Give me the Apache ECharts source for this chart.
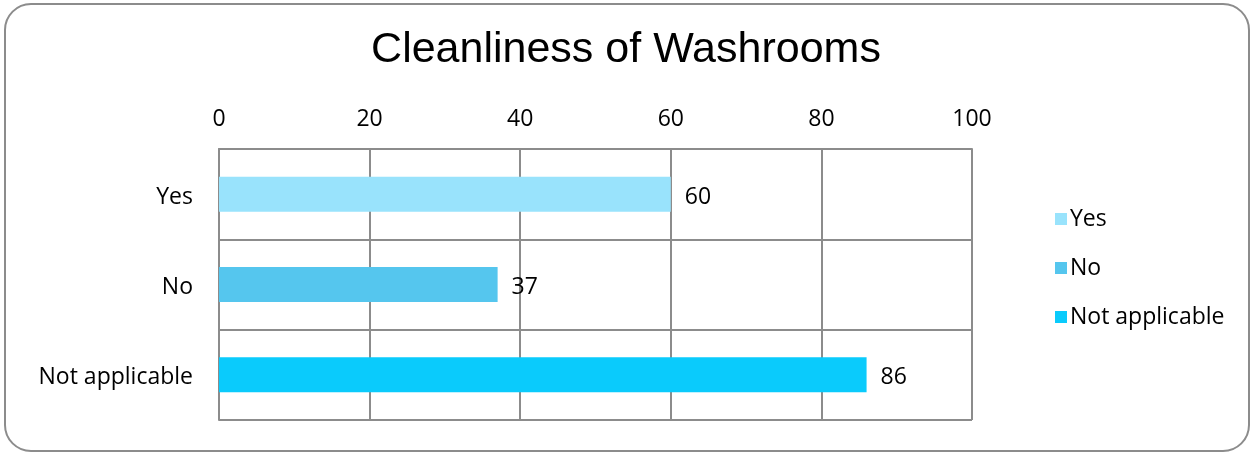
<!DOCTYPE html>
<html>
<head>
<meta charset="utf-8">
<script src="https://cdn.jsdelivr.net/npm/echarts@6/dist/echarts.min.js"></script>
<style>
  html, body { margin: 0; padding: 0; background: #fff; }
  #main { width: 1252px; height: 453px; }
</style>
</head>
<body>
<div id="main"></div>
<script>
// 卫生间清洁度
const categories = ['Yes', 'No', 'Not applicable']
const values = [60, 37, 86]
const colors = ['#99E3FC', '#55C6EE', '#0ACBFC']
const xTicks = [0, 20, 40, 60, 80, 100]

const font = '"Open Sans", sans-serif'
const chart = echarts.init(document.getElementById('main'), null, { renderer: 'canvas' })

// 每个类别一个系列，这样图例可以显示类别
const series = categories.map((name, i) => ({
  name: name,
  type: 'bar',
  stack: 'all',
  barWidth: 35,
  data: categories.map((c, j) => (j === i ? values[i] : '-')),
  itemStyle: { color: colors[i] },
  label: {
    show: true,
    position: 'right',
    distance: 14,
    offset: [0, 3],
    color: '#000',
    fontSize: 23,
    fontFamily: font
  }
}))

var option = {
  animation: false,
  title: {
    text: 'Cleanliness of Washrooms',
    left: 'center',
    top: 24,
    textStyle: { color: '#000', fontSize: 43, fontWeight: 'normal', fontFamily: '"Liberation Sans", Arial, sans-serif' }
  },
  graphic: [{
    type: 'rect',
    shape: { x: 5, y: 4, width: 1244, height: 447, r: 26 },
    style: { fill: 'none', stroke: '#8c8c8c', lineWidth: 2 },
    silent: true
  }],
  legend: {
    orient: 'vertical',
    left: 1050,
    top: 202,
    itemWidth: 12,
    itemHeight: 12,
    itemGap: 25,
    icon: 'rect',
    textStyle: { color: '#000', fontSize: 23, fontFamily: font, padding: [0, 0, 0, -2], lineHeight: 24 },
    data: categories
  },
  grid: { left: 219, right: 280, top: 149, bottom: 33 },
  xAxis: {
    type: 'value',
    position: 'top',
    min: xTicks[0],
    max: xTicks[xTicks.length - 1],
    interval: 20,
    axisLabel: { color: '#000', fontSize: 23, fontFamily: font, margin: 18 },
    axisTick: { show: false },
    axisLine: { show: true, lineStyle: { color: '#8c8c8c', width: 2 } },
    splitLine: { show: true, lineStyle: { color: '#8c8c8c', width: 2 } }
  },
  yAxis: {
    type: 'category',
    inverse: true,
    data: categories,
    axisLabel: {
      margin: 26,
      formatter: '{a|{value}}',
      rich: { a: { color: '#000', fontSize: 23, fontFamily: font, padding: [6, 0, 0, 0] } }
    },
    axisTick: { show: false },
    axisLine: { show: true, lineStyle: { color: '#8c8c8c', width: 2 } },
    splitLine: { show: true, lineStyle: { color: '#8c8c8c', width: 2 } }
  },
  series: series
}
chart.setOption(option)
</script>
</body>
</html>
